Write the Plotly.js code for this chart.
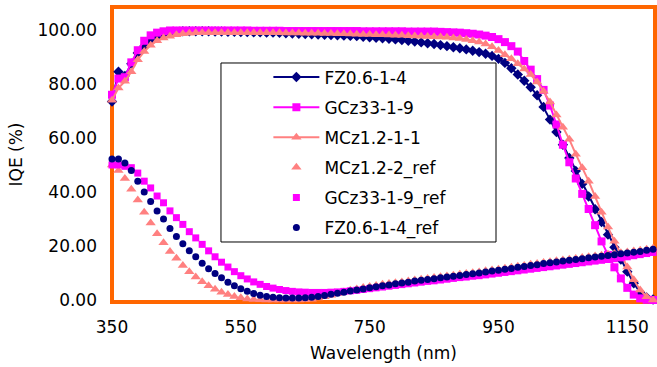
<!DOCTYPE html>
<html>
<head>
<meta charset="utf-8">
<script src="https://cdn.plot.ly/plotly-3.0.1.min.js"></script>
<style>
html,body{margin:0;padding:0;background:#fff;}
#chart{width:657px;height:367px;}
</style>
</head>
<body>
<div id="chart"></div>
<script>
// Wavelength (nm)
const wavelength = [350,360,370,380,390,400,410,420,430,440,450,460,470,480,490,500,510,520,530,540,550,560,570,580,590,600,610,620,630,640,650,660,670,680,690,700,710,720,730,740,750,760,770,780,790,800,810,820,830,840,850,860,870,880,890,900,910,920,930,940,950,960,970,980,990,1000,1010,1020,1030,1040,1050,1060,1070,1080,1090,1100,1110,1120,1130,1140,1150,1160,1170,1180,1190];

// IQE (%)
const fz_iqe = [73.5,84.5,83,87.5,91.5,94,96,97.5,98.5,99,99.3,99.5,99.5,99.5,99.5,99.5,99.4,99.4,99.3,99.3,99.2,99.2,99.1,99.1,99,99,98.9,98.8,98.7,98.6,98.5,98.4,98.3,98.2,98.1,98,97.9,97.8,97.7,97.5,97.3,97.1,96.9,96.7,96.5,96.3,96,95.7,95.4,95.1,94.8,94.4,94,93.6,93.2,92.8,92.3,91.8,91.2,90.4,89.3,87.8,85.8,83.5,81.2,78.8,75.8,71.5,66.8,62.2,57.5,52.6,47.8,43,38.3,33.6,28.9,24.2,19.5,15,10.5,6.2,2.8,0.9,0.2];
const gcz_iqe = [76,82,82.5,88,92.5,96,98,99,99.5,99.8,99.8,99.8,99.8,99.8,99.8,99.8,99.8,99.8,99.8,99.8,99.8,99.8,99.7,99.7,99.7,99.7,99.7,99.6,99.6,99.6,99.6,99.6,99.6,99.6,99.6,99.6,99.6,99.6,99.6,99.5,99.5,99.5,99.5,99.5,99.5,99.5,99.4,99.4,99.4,99.4,99.4,99.3,99.2,99.1,99,98.8,98.6,98.3,97.9,97.4,96.6,95.5,94,92,88.5,85.3,81.8,77.8,72,65,57.5,51,45,39.3,33.7,27.7,21.7,16.7,12.1,8,4.5,2,0.6,0.1,0];
const mcz_iqe = [74,78.5,81,84.5,89,92,94.3,96,97,97.7,98.2,98.6,98.8,99,99,99,99,99,99,99,99,99,99,99,99,99,98.95,98.9,98.9,98.85,98.8,98.8,98.75,98.7,98.65,98.6,98.55,98.5,98.4,98.35,98.3,98.25,98.2,98.1,98.05,98,97.9,97.8,97.7,97.6,97.5,97.4,97.3,97,96.8,96.5,96,95.5,94.8,93.8,92.4,90.8,89.3,87.5,85.5,83.5,80.7,77.3,73.3,68.5,64,59.5,54,49,44,38.3,32.5,27,21.8,17,12.2,7.5,3.7,1.2,0];

// Reflectance (%)
const mcz_ref = [50,48,45,41,37,32.5,28.5,24.5,21.2,18,15.5,12.8,10.5,8.5,6.8,5.3,4,2.9,2,1.3,0.8,0.4,0.2,0.1,0,0,0,0,0,0,0.1,0.3,0.7,1.2,1.8,2.4,3,3.6,4.1,4.6,5,5.4,5.8,6.1,6.4,6.7,7,7.4,7.7,8,8.3,8.6,8.9,9.2,9.5,9.8,10.1,10.4,10.8,11.1,11.4,11.8,12.1,12.5,12.8,13.2,13.5,13.9,14.2,14.5,14.8,15.1,15.4,15.7,16,16.3,16.6,16.9,17.2,17.5,17.8,18.1,18.4,18.8,19.2];
const gcz_ref = [50,50,49.5,49,47,44,41.5,38.5,36,33,30.5,28,25.3,23,20.6,18.2,16,14,12.2,10.5,9,7.8,6.7,5.8,5,4.4,3.9,3.5,3.2,3,2.9,2.8,2.8,2.8,2.9,3,3.2,3.4,3.6,3.9,4.2,4.5,4.8,5.1,5.4,5.7,6,6.3,6.6,6.9,7.1,7.4,7.7,8,8.3,8.5,8.8,9,9.3,9.6,9.9,10.2,10.5,10.8,11.1,11.4,11.7,12,12.3,12.6,12.9,13.2,13.5,13.8,14.1,14.4,14.7,15,15.3,15.6,16,16.4,16.8,17.2,17.6];
const fz_ref = [52.2,52.2,50.7,48,44,40,36.5,33,30,26.5,23.5,20.8,18.2,16,13.6,11.6,9.8,8.2,6.6,5.3,4.2,3.2,2.4,1.8,1.3,1,0.8,0.7,0.7,0.7,0.8,1,1.3,1.7,2.1,2.5,2.9,3.3,3.7,4.1,4.5,4.9,5.3,5.6,6,6.3,6.6,7,7.3,7.6,7.9,8.2,8.5,8.8,9.1,9.4,9.7,10,10.4,10.7,11,11.4,11.7,12.1,12.4,12.8,13.1,13.5,13.8,14.1,14.4,14.7,15,15.3,15.6,15.9,16.2,16.5,16.8,17.1,17.4,17.7,18,18.4,18.8];

const seriesNames = ["FZ0.6-1-4","GCz33-1-9","MCz1.2-1-1","MCz1.2-2_ref","GCz33-1-9_ref","FZ0.6-1-4_ref"];
const xTicks = [350,550,750,950,1150];
const yTicks = [0,20,40,60,80,100];

const NAVY = "#000080", MAG = "#FF00FF", SALMON = "#FF8080", ORANGE = "#FF6600";
const FONT = "DejaVu Sans, Arial, sans-serif";

const traces = [
  {x: wavelength, y: fz_iqe, name: seriesNames[0], mode: "lines+markers",
   line: {color: NAVY, width: 2}, marker: {symbol: "diamond", size: 8, color: NAVY}},
  {x: wavelength, y: gcz_iqe, name: seriesNames[1], mode: "lines+markers",
   line: {color: MAG, width: 2}, marker: {symbol: "square", size: 8, color: MAG}},
  {x: wavelength, y: mcz_iqe, name: seriesNames[2], mode: "lines+markers",
   line: {color: SALMON, width: 2}, marker: {symbol: "triangle-up", size: 9, color: SALMON}},
  {x: wavelength, y: mcz_ref, name: seriesNames[3], mode: "markers",
   marker: {symbol: "triangle-up", size: 9, color: SALMON}},
  {x: wavelength, y: gcz_ref, name: seriesNames[4], mode: "markers",
   marker: {symbol: "square", size: 7, color: MAG}},
  {x: wavelength, y: fz_ref, name: seriesNames[5], mode: "markers",
   marker: {symbol: "circle", size: 7, color: NAVY}}
];
traces.forEach((t, i) => { t.type = "scatter"; t.cliponaxis = false; t.legendgroup = "g" + i; });

const layout = {
  width: 657, height: 367,
  margin: {l: 112, r: 2, t: 7, b: 65},
  paper_bgcolor: "#ffffff", plot_bgcolor: "#ffffff",
  font: {family: FONT, size: 17, color: "#000000"},
  showlegend: true,
  legend: {
    x: 0.288, y: 0.822, xanchor: "left", yanchor: "top",
    bgcolor: "rgba(0,0,0,0)", borderwidth: 0,
    font: {family: FONT, size: 17, color: "#000000"},
    tracegroupgap: 5, traceorder: "grouped", itemwidth: 46
  },
  xaxis: {
    range: [350, 1193], tickvals: xTicks, ticktext: xTicks.map(String),
    showgrid: false, zeroline: false, showline: false, ticks: "",
    ticklabelstandoff: 13,
    tickfont: {family: FONT, size: 17, color: "#000000"},
    title: {text: "Wavelength (nm)", font: {family: FONT, size: 17, color: "#000000"}, standoff: 11}
  },
  yaxis: {
    range: [-0.74, 108.5], tickvals: yTicks, tickformat: ".2f",
    showgrid: false, zeroline: false, showline: false, ticks: "",
    ticklabelstandoff: 14,
    tickfont: {family: FONT, size: 17, color: "#000000"},
    title: {text: "IQE (%)", font: {family: FONT, size: 17, color: "#000000"}, standoff: 10}
  },
  shapes: [
    {type: "rect", xref: "paper", yref: "paper", x0: 0, x1: 1, y0: 0, y1: 1,
     line: {color: ORANGE, width: 4}, fillcolor: "rgba(0,0,0,0)", layer: "below"},
    {type: "rect", xref: "paper", yref: "paper", x0: 0.2007, x1: 0.7072, y0: 0.2034, y1: 0.8102,
     line: {color: "#000000", width: 1}, fillcolor: "#ffffff", layer: "below"}
  ]
};

Plotly.newPlot("chart", traces, layout, {displayModeBar: false, staticPlot: true});
</script>
</body>
</html>
